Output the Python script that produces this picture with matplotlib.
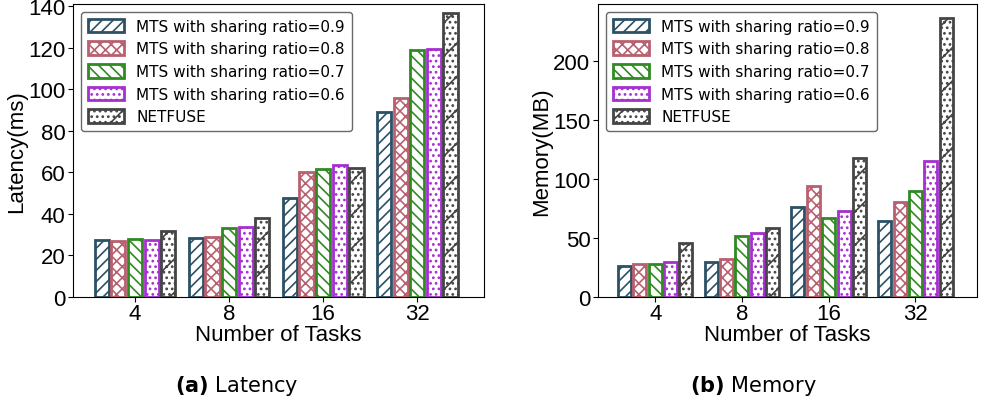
import numpy as np
import matplotlib.pyplot as plt

plt.rcParams['hatch.linewidth'] = 1.2

tasks = ["4", "8", "16", "32"]
series = ["MTS with sharing ratio=0.9", "MTS with sharing ratio=0.8",
          "MTS with sharing ratio=0.7", "MTS with sharing ratio=0.6", "NETFUSE"]

latency_09 = [27.5, 28.5, 47.5, 89]
latency_08 = [27, 29, 60, 96]
latency_07 = [28, 33, 61.5, 119]
latency_06 = [27.5, 33.5, 63.5, 119.5]
latency_netfuse = [32, 38, 62, 136.5]

memory_09 = [26, 30, 76, 64]
memory_08 = [28, 32, 94, 80]
memory_07 = [28, 52, 67, 90]
memory_06 = [30, 54, 73, 115]
memory_netfuse = [46, 58, 118, 236]

colors = ["#2c5066", "#b8606f", "#2f8a22", "#a52fcf", "#454545"]
hatches = ["///", "xxx", "\\\\\\", "...", "/..."]

latency = [latency_09, latency_08, latency_07, latency_06, latency_netfuse]
memory = [memory_09, memory_08, memory_07, memory_06, memory_netfuse]

fig = plt.figure(figsize=(9.89, 4.10), dpi=100)
ax1 = fig.add_axes([73/989, 112/410, 411/989, 293/410])
ax2 = fig.add_axes([598/989, 112/410, 379/989, 293/410])

x = np.arange(len(tasks))
step = 0.177
width = 0.15

def draw(ax, data, ylabel, ylim, yticks):
    for i, vals in enumerate(data):
        ax.bar(x + (i - 2) * step, vals, width, facecolor="white",
               edgecolor=colors[i], hatch=hatches[i], linewidth=2,
               label=series[i])
    ax.set_xticks(x)
    ax.set_xticklabels(tasks)
    ax.set_ylim(*ylim)
    ax.set_yticks(yticks)
    ax.set_xlim(-0.66, 3.71)
    ax.tick_params(axis="x", pad=1)
    ax.tick_params(axis="y", pad=2)
    ax.set_xlabel("Number of Tasks", fontsize=16, family="Liberation Sans", labelpad=0)
    ax.set_ylabel(ylabel, fontsize=16, family="Liberation Sans", labelpad=1)
    for lab in ax.get_xticklabels() + ax.get_yticklabels():
        lab.set_fontsize(16)
        lab.set_family("Liberation Sans")
    ax.legend(loc="upper left", fontsize=11, handlelength=2.4, handleheight=1.0,
              borderpad=0.45, labelspacing=0.5, edgecolor="#444444", fancybox=True)

draw(ax1, latency, "Latency(ms)", (0, 141), [0, 20, 40, 60, 80, 100, 120, 140])
draw(ax2, memory, "Memory(MB)", (0, 248), [0, 50, 100, 150, 200])

fig.text(237/989, 1 - 386/410, r"$\bf{(a)}$ Latency", ha="center", va="center", fontsize=15)
fig.text(753/989, 1 - 386/410, r"$\bf{(b)}$ Memory", ha="center", va="center", fontsize=15)

fig.savefig("out.png", dpi=100)
